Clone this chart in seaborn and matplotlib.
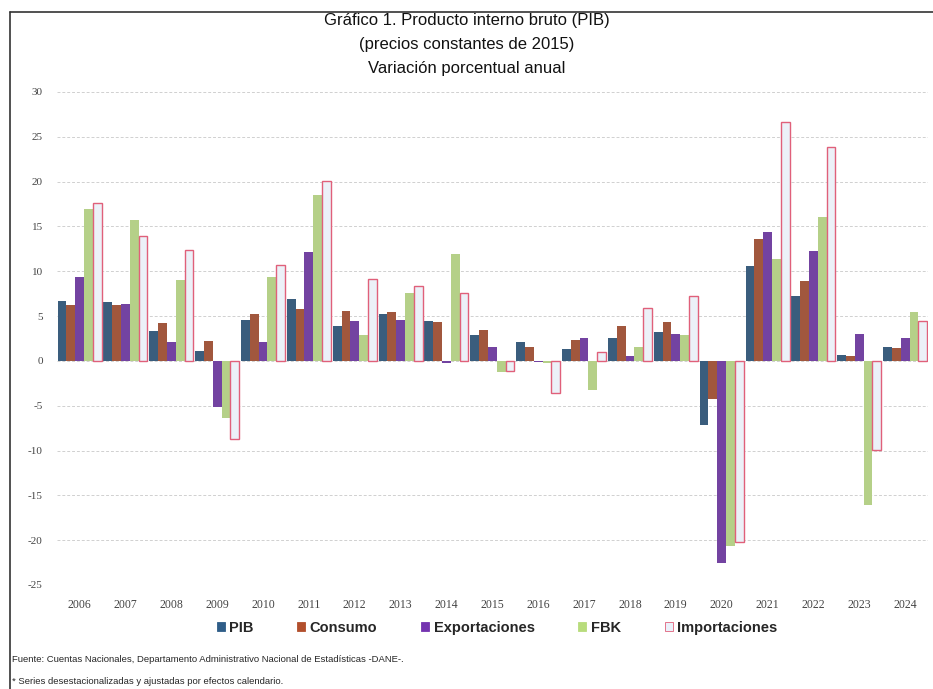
import pandas as pd
import seaborn as sns
import matplotlib.pyplot as plt
from matplotlib.patches import Patch
from matplotlib.lines import Line2D

years = [str(y) for y in range(2006, 2025)]
series = ['PIB', 'Consumo', 'Exportaciones', 'FBK', 'Importaciones']

pib = [6.7, 6.6, 3.3, 1.1, 4.6, 6.9, 3.9, 5.2, 4.5, 2.9, 2.1, 1.3, 2.6, 3.2, -7.2, 10.6, 7.2, 0.7, 1.6]
consumo = [6.2, 6.2, 4.2, 2.2, 5.2, 5.8, 5.6, 5.4, 4.3, 3.4, 1.6, 2.3, 3.9, 4.3, -4.2, 13.6, 8.9, 0.6, 1.4]
exportaciones = [9.4, 6.3, 2.1, -5.1, 2.1, 12.1, 4.5, 4.6, -0.2, 1.6, -0.1, 2.6, 0.6, 3.0, -22.5, 14.4, 12.3, 3.0, 2.6]
fbk = [16.9, 15.7, 9.0, -6.4, 9.4, 18.5, 2.9, 7.6, 11.9, -1.2, -0.2, -3.3, 1.5, 2.9, -20.7, 11.4, 16.0, -16.1, 5.4]
importaciones = [17.6, 13.9, 12.4, -8.7, 10.7, 20.1, 9.1, 8.3, 7.6, -1.1, -3.6, 1.0, 5.9, 7.2, -20.2, 26.6, 23.9, -9.9, 4.4]

colors = ['#2f5d88', '#b24f2c', '#7434b0', '#b8dc7c', '#eaf1fa']
import_edge = '#e0607a'

df = pd.DataFrame({'year': years, 'PIB': pib, 'Consumo': consumo,
                   'Exportaciones': exportaciones, 'FBK': fbk,
                   'Importaciones': importaciones})
long = df.melt(id_vars='year', var_name='serie', value_name='valor')

sns.set_style('white')
plt.rcParams['axes.unicode_minus'] = False
fig = plt.figure(figsize=(9.33, 6.89), dpi=100)
ax = fig.add_axes([0.0607, 0.151, 0.934, 0.7155])

sns.barplot(data=long, x='year', y='valor', hue='serie', hue_order=series,
            palette=colors, width=0.96, gap=0, linewidth=0, legend=False, ax=ax)

# only the import bars carry an outline
for bar in ax.containers[-1]:
    bar.set_edgecolor(import_edge)
    bar.set_linewidth(1.0)

ax.set_ylim(-25, 30)
ax.set_xlim(-0.5, 18.5)
ax.set_yticks(range(-25, 31, 5))
ax.yaxis.grid(True, color='#d0d0d0', linestyle=(0, (3, 2)), linewidth=0.7)
ax.set_axisbelow(True)
ax.set_xlabel('')
ax.set_ylabel('')
for s in ax.spines.values():
    s.set_visible(False)
ax.tick_params(axis='y', length=0, pad=10, labelsize=8, labelcolor='#444444')
ax.tick_params(axis='x', length=0, pad=10, labelsize=8.5, labelcolor='#444444')
for lbl in ax.get_xticklabels() + ax.get_yticklabels():
    lbl.set_family('Liberation Serif')

# title
for txt, y in [('Gráfico 1. Producto interno bruto (PIB)', 20),
               ('(precios constantes de 2015)', 45),
               ('Variación porcentual anual', 69)]:
    fig.text(0.5, 1 - y / 689, txt, ha='center', va='center',
             fontsize=12, family='Liberation Sans', color='#111111')

# legend
handles = [Patch(facecolor=c, edgecolor=(import_edge if n == 'Importaciones' else c), linewidth=0.6)
           for c, n in zip(colors, series)]
fig.legend(handles, series, loc='center', bbox_to_anchor=(497 / 933, 1 - 628 / 689),
           ncol=5, frameon=False, handlelength=0.55, handleheight=0.55, handletextpad=0.3,
           columnspacing=3.0, prop={'family': 'Liberation Sans', 'weight': 'bold', 'size': 10.5})

# footnotes
fig.text(12 / 933, 1 - 660 / 689,
         'Fuente: Cuentas Nacionales, Departamento Administrativo Nacional de Estadísticas -DANE-.',
         ha='left', va='center', fontsize=6.8, family=['Liberation Sans Narrow', 'Liberation Sans'])
fig.text(12 / 933, 1 - 681 / 689,
         '* Series desestacionalizadas y ajustadas por efectos calendario.',
         ha='left', va='center', fontsize=6.8, family=['Liberation Sans Narrow', 'Liberation Sans'])

# frame
fig.add_artist(Line2D([10 / 933, 1.0], [1 - 12 / 689] * 2, color='#333333', linewidth=1.2))
fig.add_artist(Line2D([10 / 933] * 2, [0, 1 - 12 / 689], color='#333333', linewidth=1.2))

fig.savefig('out.png', dpi=100, facecolor='white')
